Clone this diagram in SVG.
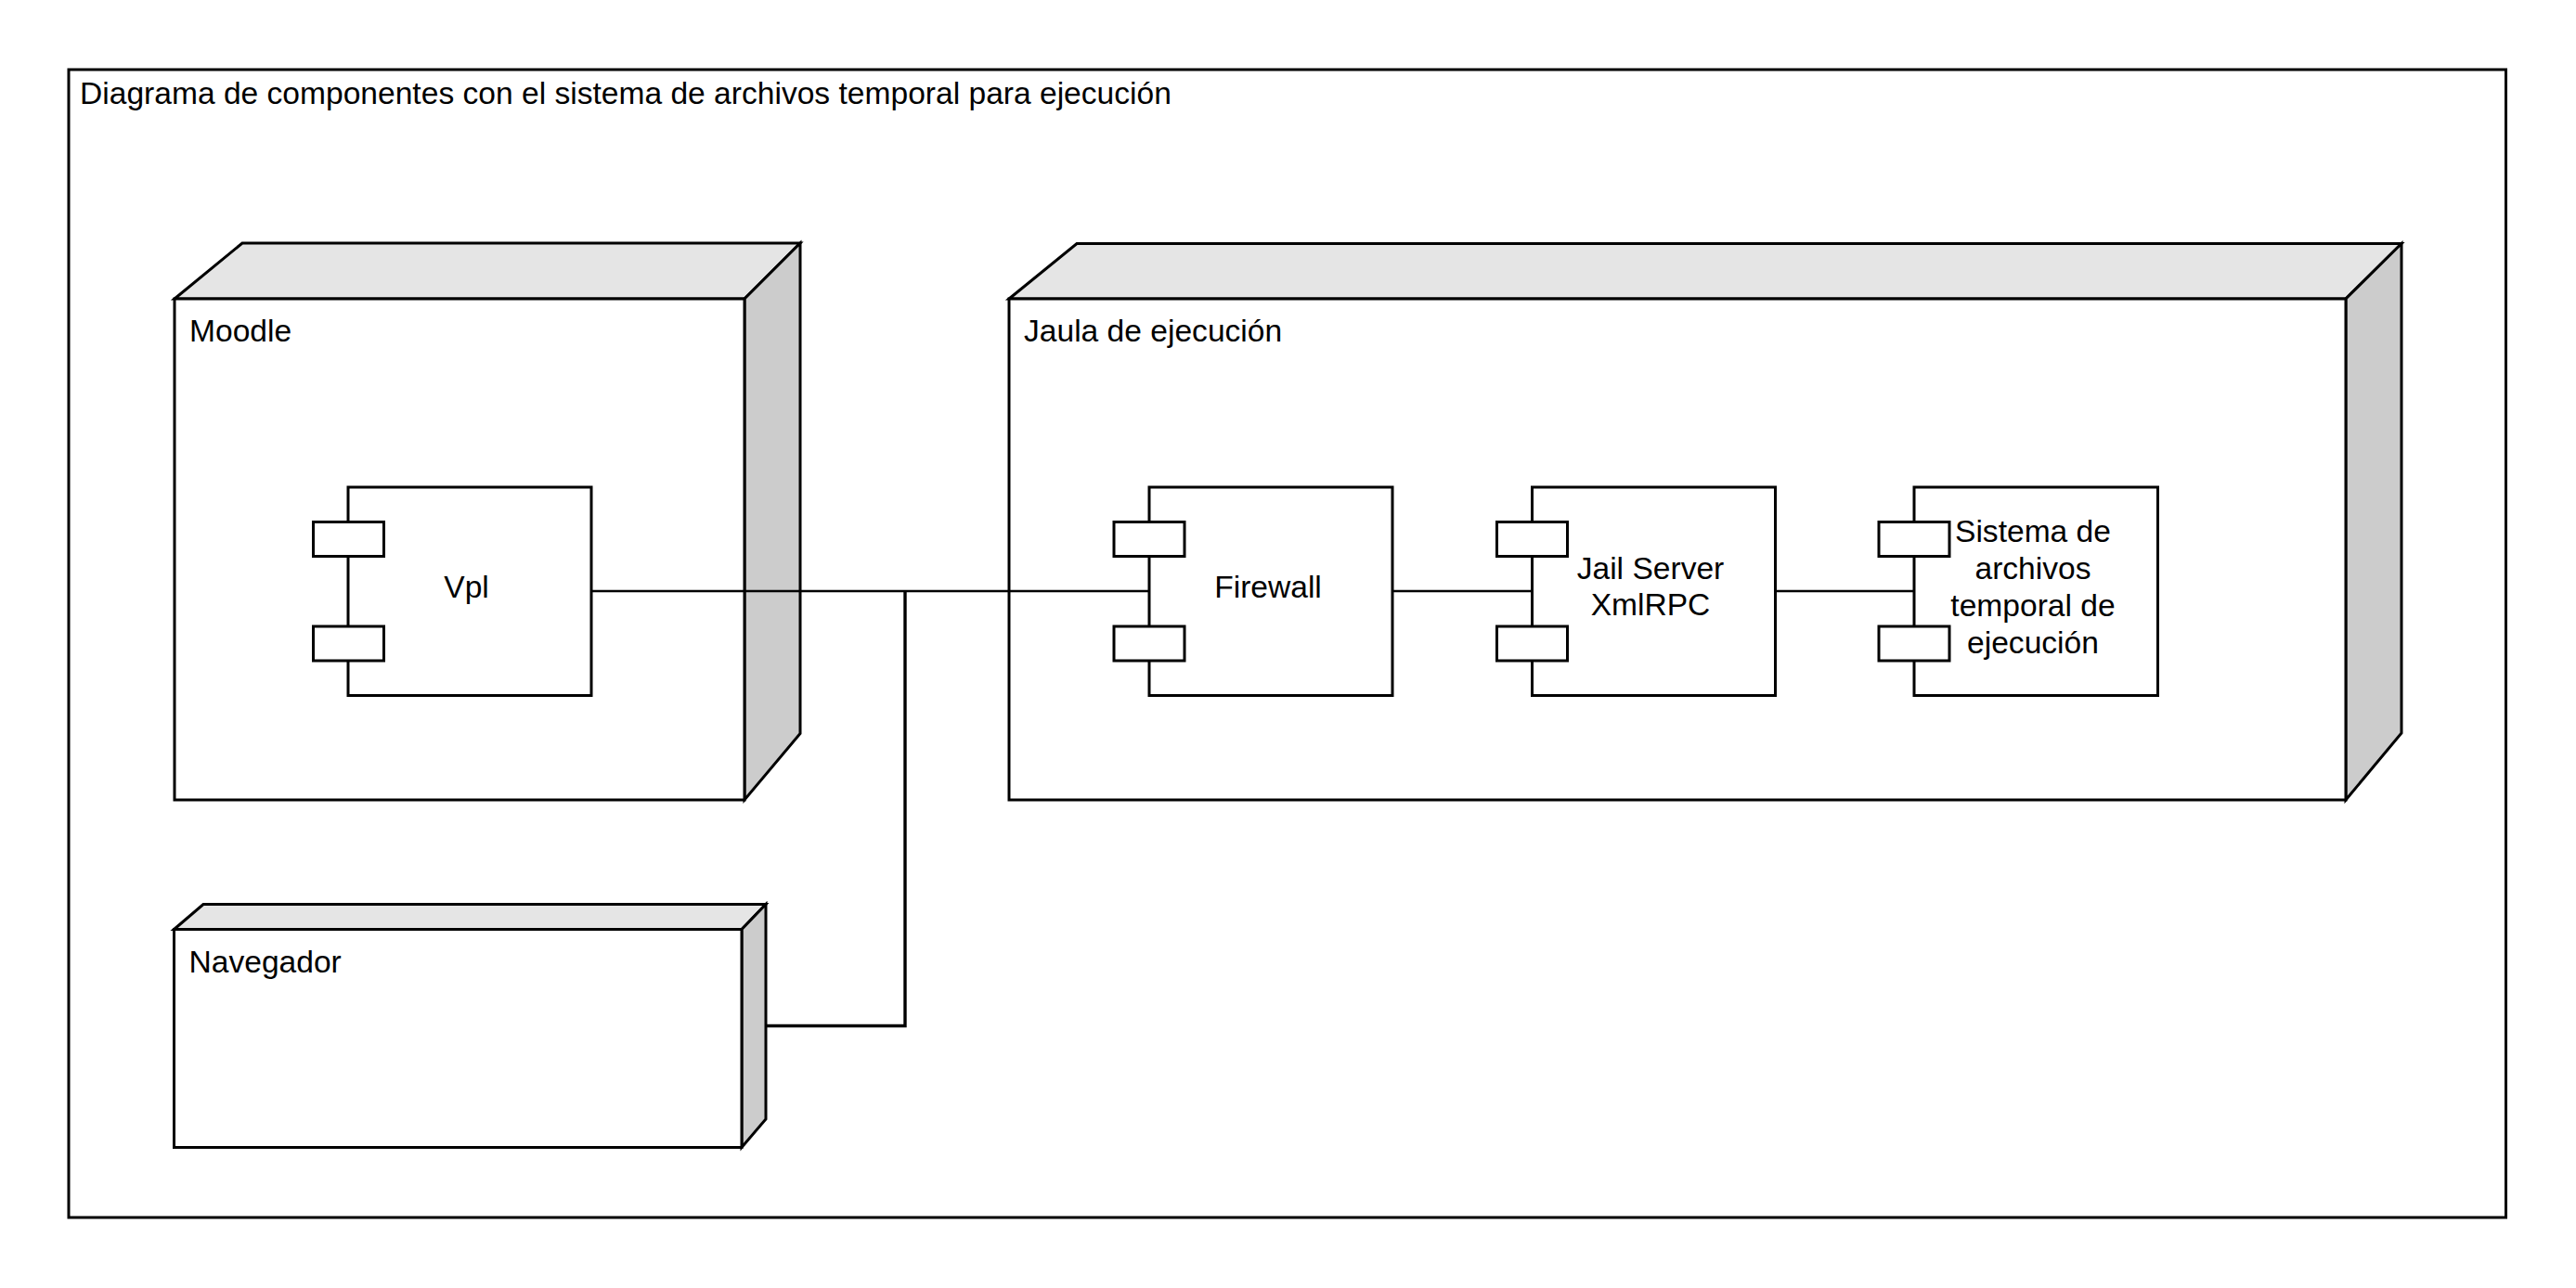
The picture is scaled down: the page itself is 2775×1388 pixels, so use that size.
<svg xmlns="http://www.w3.org/2000/svg" width="2775" height="1388" viewBox="0 0 2775 1388">
  <style>
    .frame { fill: #ffffff; stroke: #000000; stroke-width: 3; }
    .front { fill: #ffffff; stroke: #000000; stroke-width: 3; }
    .top { fill: #e5e5e5; stroke: #000000; stroke-width: 3; stroke-linejoin: miter; }
    .side { fill: #cccccc; stroke: #000000; stroke-width: 3; stroke-linejoin: miter; }
    .comp { fill: #ffffff; stroke: #000000; stroke-width: 3; }
    .port { fill: #ffffff; stroke: #000000; stroke-width: 3; }
    .lbl { font-family: "Liberation Sans", Arial, sans-serif; font-size: 33.6px; fill: #000000; }
    .ctr { text-anchor: middle; }
    .conn { fill: none; stroke: #000000; stroke-width: 2.6; }
    .conn2 { fill: none; stroke: #000000; stroke-width: 3.4; }
  </style>
  <rect width="2775" height="1388" fill="#ffffff"/>

  <g id="frame">
    <rect class="frame" x="74" y="75" width="2625.5" height="1237"/>
    <text class="lbl" x="86" y="112">Diagrama de componentes con el sistema de archivos temporal para ejecución</text>
  </g>

  <g id="node-moodle">
    <polygon class="top" points="188,322 261,262 862,262 802,322"/>
    <polygon class="side" points="802,322 862,262 862,790.5 802,862"/>
    <rect class="front" x="188" y="322" width="614" height="540"/>
    <text class="lbl" x="204" y="368">Moodle</text>
  </g>

  <g id="node-jaula">
    <polygon class="top" points="1087,322 1160,262.5 2587,262.5 2527,322"/>
    <polygon class="side" points="2527,322 2587,262.5 2587,790 2527,862"/>
    <rect class="front" x="1087" y="322" width="1440" height="540"/>
    <text class="lbl" x="1103" y="368">Jaula de ejecución</text>
  </g>

  <g id="node-navegador">
    <polygon class="top" points="187.5,1001.5 219,974.5 825,974.5 799,1001.5"/>
    <polygon class="side" points="799,1001.5 825,974.5 825,1206 799,1236.5"/>
    <rect class="front" x="187.5" y="1001.5" width="611.5" height="235"/>
    <text class="lbl" x="203.5" y="1047.5">Navegador</text>
  </g>

  <g id="comp-vpl">
    <rect class="comp" x="375" y="525" width="262" height="224.5"/>
    <rect class="port" x="337.5" y="562.5" width="76" height="37"/>
    <rect class="port" x="337.5" y="675" width="76" height="37"/>
    <text class="lbl ctr" x="502.5" y="644">Vpl</text>
  </g>

  <g id="comp-firewall">
    <rect class="comp" x="1238" y="525" width="262" height="224.5"/>
    <rect class="port" x="1200" y="562.5" width="76" height="37"/>
    <rect class="port" x="1200" y="675" width="76" height="37"/>
    <text class="lbl ctr" x="1366" y="644">Firewall</text>
  </g>

  <g id="comp-jail">
    <rect class="comp" x="1650.5" y="525" width="262" height="224.5"/>
    <rect class="port" x="1612.5" y="562.5" width="76" height="37"/>
    <rect class="port" x="1612.5" y="675" width="76" height="37"/>
    <text class="lbl ctr" x="1778" y="623.5">Jail Server</text>
    <text class="lbl ctr" x="1778" y="663">XmlRPC</text>
  </g>

  <g id="comp-sistema">
    <rect class="comp" x="2062" y="525" width="262.5" height="224.5"/>
    <rect class="port" x="2024" y="562.5" width="76" height="37"/>
    <rect class="port" x="2024" y="675" width="76" height="37"/>
    <text class="lbl ctr" x="2190" y="583.5">Sistema de</text>
    <text class="lbl ctr" x="2190" y="623.5">archivos</text>
    <text class="lbl ctr" x="2190" y="663.5">temporal de</text>
    <text class="lbl ctr" x="2190" y="703.5">ejecución</text>
  </g>

  <g id="connectors">
    <line class="conn" x1="637" y1="637" x2="1238" y2="637"/>
    <line class="conn" x1="1500" y1="637" x2="1650.5" y2="637"/>
    <line class="conn" x1="1912.5" y1="637" x2="2062" y2="637"/>
    <polyline class="conn2" points="825,1105.5 975,1105.5 975,637"/>
  </g>
</svg>
